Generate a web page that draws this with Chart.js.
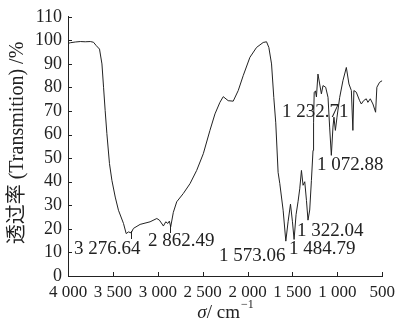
<!DOCTYPE html>
<html>
<head>
<meta charset="utf-8">
<script src="https://cdn.jsdelivr.net/npm/chart.js@4"></script>
<style>
  html, body { margin: 0; padding: 0; background: #fff; }
  canvas { display: block; }
</style>
</head>
<body>
<canvas id="irChart" width="401" height="321"></canvas>
<script>
// wavenumber (cm-1) and transmittance (%)
const waveNumbers = [4000, 3974, 3919, 3863, 3808, 3752, 3716, 3686, 3649, 3622, 3604, 3586, 3567, 3538, 3511, 3474,
  3438, 3382, 3352, 3327, 3297, 3271, 3197, 3086, 3011, 2982, 2944, 2938, 2911, 2889, 2871, 2856, 2827, 2789,
  2716, 2641, 2567, 2493, 2419, 2363, 2308, 2271, 2216, 2160, 2104, 2049, 1974, 1900, 1826, 1789, 1763, 1733,
  1708, 1686, 1660, 1641, 1604, 1574, 1549, 1522, 1500, 1482, 1460, 1438, 1419, 1400, 1382, 1363, 1344, 1327,
  1308, 1289, 1271, 1265, 1258, 1244, 1233, 1216, 1197, 1178, 1160, 1130, 1104, 1086, 1067, 1049, 1038, 1022,
  1004, 974, 938, 900, 871, 844, 827, 816, 789, 752, 733, 708, 678, 660, 633, 604, 574, 560, 530, 500];
const transmittance = [98.7, 99.0, 99.3, 99.5, 99.4, 99.5, 99.2, 97.8, 96.3, 90.0, 80.1, 70.2, 60.4, 47.7, 40.6, 33.5,
  27.9, 22.3, 18.0, 18.7, 18.3, 20.2, 21.9, 23.0, 24.4, 23.7, 21.6, 21.2, 23.0, 22.3, 23.3, 20.9, 27.0, 31.5,
  35.0, 39.2, 44.8, 51.9, 61.8, 68.8, 73.7, 76.1, 74.4, 74.2, 78.7, 85.0, 92.8, 97.0, 99.1, 99.4, 97.0, 90.0,
  75.8, 65.0, 44.0, 39.2, 27.9, 14.8, 23.0, 30.5, 23.0, 15.5, 26.0, 31.5, 37.0, 44.8, 38.5, 40.0, 32.0, 23.7,
  28.0, 40.6, 53.3, 65.0, 78.0, 78.5, 76.0, 85.7, 81.5, 77.3, 80.8, 80.1, 75.8, 63.2, 51.2, 63.2, 67.4, 61.8,
  67.4, 75.8, 82.9, 88.5, 81.5, 78.7, 61.8, 78.7, 78.0, 74.4, 73.0, 74.4, 75.2, 73.7, 75.2, 73.0, 69.5, 80.1, 82.2, 82.9];

const peakLabels = ['3 276.64', '2 862.49', '1 573.06', '1 484.79', '1 322.04', '1 072.88', '1 232.71'];

const xTitle = ['σ', '/ cm', '−1'];
const yTitle = '透过率 (Transmition) /%';

const serif = '"Liberation Serif", "Times New Roman", serif';
const ink = '#222';

function fmtThousands(v) {
  if (v < 1000) return String(v);
  return Math.floor(v / 1000) + ' ' + String(v % 1000).padStart(3, '0');
}

// text labels for the peaks, placed by hand like the original figure
const peakPlugin = {
  id: 'peaks',
  afterDatasetsDraw(chart) {
    const ctx = chart.ctx;
    const spots = [[74, 249], [148, 241], [219, 256], [289, 249], [297, 231], [317, 165], [282, 112]];
    ctx.save();
    ctx.fillStyle = ink;
    ctx.font = '19px ' + serif;
    ctx.textBaseline = 'middle';
    ctx.textAlign = 'left';
    peakLabels.forEach((t, i) => ctx.fillText(t, spots[i][0], spots[i][1]));

    // little leader lines under the two broad minima
    ctx.strokeStyle = ink;
    ctx.lineWidth = 1;
    ctx.beginPath();
    ctx.moveTo(131.5, 231); ctx.lineTo(131.5, 239);
    ctx.moveTo(170.5, 225); ctx.lineTo(170.5, 233);
    ctx.stroke();
    ctx.restore();
  },
  afterDraw(chart) {
    const ctx = chart.ctx;
    const xs = chart.scales.x, ys = chart.scales.y;
    const area = chart.chartArea;
    ctx.save();
    ctx.strokeStyle = ink;
    ctx.lineWidth = 1;
    ctx.beginPath();
    // inward ticks
    xs.ticks.forEach(t => {
      const px = Math.round(xs.getPixelForValue(t.value)) + 0.5;
      ctx.moveTo(px, area.bottom); ctx.lineTo(px, area.bottom - 4);
    });
    ys.ticks.forEach(t => {
      const py = Math.round(ys.getPixelForValue(t.value)) + 0.5;
      ctx.moveTo(area.left, py); ctx.lineTo(area.left + 4, py);
    });
    ctx.stroke();

    // x title: italic sigma / cm^-1
    ctx.fillStyle = ink;
    ctx.textBaseline = 'alphabetic';
    ctx.textAlign = 'left';
    ctx.font = 'italic 19px ' + serif;
    const w0 = ctx.measureText(xTitle[0]).width;
    ctx.font = '19px ' + serif;
    const w1 = ctx.measureText(xTitle[1]).width;
    ctx.font = '12px ' + serif;
    const w2 = ctx.measureText(xTitle[2]).width;
    let x = 225 - (w0 + w1 + w2) / 2;
    const base = 318;
    ctx.font = 'italic 19px ' + serif;
    ctx.fillText(xTitle[0], x, base); x += w0;
    ctx.font = '19px ' + serif;
    ctx.fillText(xTitle[1], x, base); x += w1;
    ctx.font = '12px ' + serif;
    ctx.fillText(xTitle[2], x + 1, base - 10);

    // y title, rotated
    ctx.translate(18, 143);
    ctx.rotate(-Math.PI / 2);
    ctx.font = '20px ' + serif + ', "Noto Sans CJK SC"';
    ctx.textAlign = 'center';
    ctx.textBaseline = 'middle';
    ctx.fillText(yTitle, 0, 0);
    ctx.restore();
  }
};

new Chart(document.getElementById('irChart').getContext('2d'), {
  type: 'line',
  data: {
    datasets: [{
      data: waveNumbers.map((w, i) => ({ x: w, y: transmittance[i] })),
      borderColor: ink,
      borderWidth: 1,
      pointRadius: 0,
      tension: 0,
      fill: false
    }]
  },
  options: {
    responsive: false,
    animation: false,
    devicePixelRatio: 1,
    layout: { padding: { top: 16, right: 18, left: 0, bottom: 0 } },
    plugins: { legend: { display: false }, tooltip: { enabled: false } },
    scales: {
      x: {
        type: 'linear',
        reverse: true,
        min: 500,
        max: 4000,
        grid: { display: false, drawTicks: false },
        border: { display: true, color: ink, width: 1 },
        ticks: {
          stepSize: 500,
          padding: 6,
          color: ink,
          maxRotation: 0,
          autoSkip: false,
          font: { family: serif, size: 17 },
          callback: v => fmtThousands(v)
        },
        afterFit: s => { s.height = 45; }
      },
      y: {
        min: 0,
        max: 110,
        grid: { display: false, drawTicks: false },
        border: { display: true, color: ink, width: 1 },
        ticks: {
          stepSize: 10,
          padding: 6,
          color: ink,
          autoSkip: false,
          font: { family: serif, size: 18 }
        },
        afterFit: s => { s.width = 68; }
      }
    }
  },
  plugins: [peakPlugin]
});
</script>
</body>
</html>
